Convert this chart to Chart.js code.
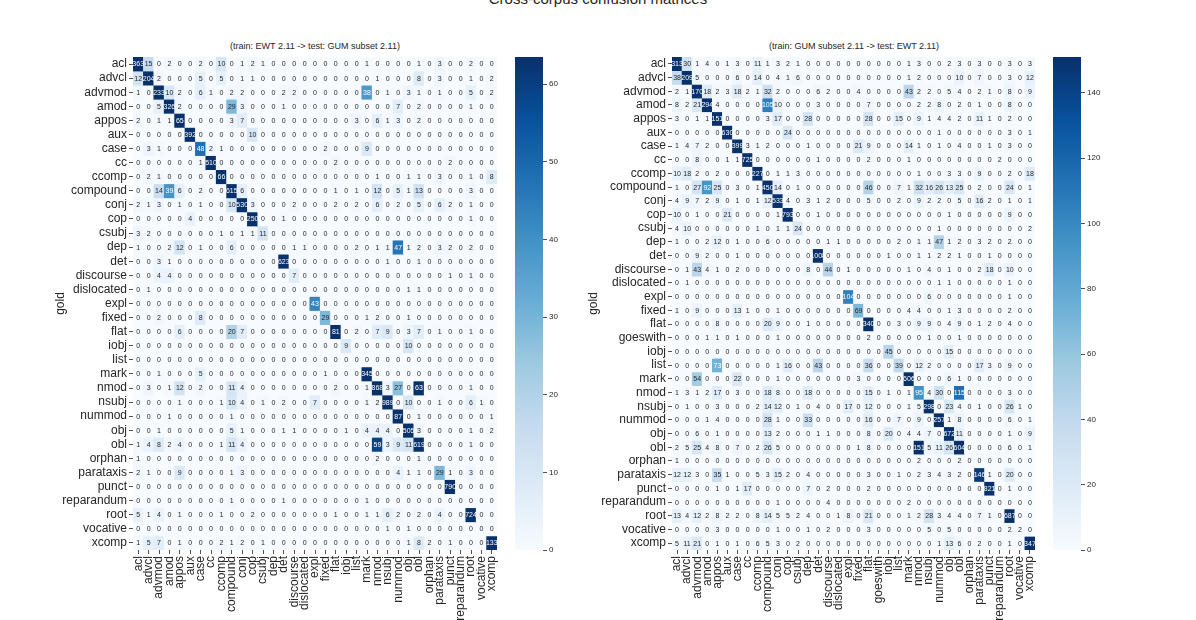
<!DOCTYPE html>
<html>
<head>
<meta charset="utf-8">
<script src="https://cdn.jsdelivr.net/npm/chart.js@4.4.0/dist/chart.umd.min.js"></script>
<style>
  body { margin: 0; background: #fff; width: 1196px; height: 620px; overflow: hidden; position: relative;
         font-family: "Liberation Sans", Arial, sans-serif; color: #262626; }
  canvas { position: absolute; }
  .title { position: absolute; text-align: center; white-space: nowrap; }
  #suptitle { left: 398px; width: 400px; top: -9px; font-size: 15px; line-height: 15px; }
  .sub { width: 300px; top: 41px; font-size: 9px; line-height: 11px; }
</style>
</head>
<body>
<div class="title" id="suptitle">Cross-corpus confusion matrices</div>
<div class="title sub" style="left:165px">(train: EWT 2.11 -&gt; test: GUM subset 2.11)</div>
<div class="title sub" style="left:704px">(train: GUM subset 2.11 -&gt; test: EWT 2.11)</div>
<canvas id="heatLeft" width="475" height="580" style="left:30px;top:40px"></canvas>
<canvas id="cbarLeft" width="60" height="520" style="left:510px;top:40px"></canvas>
<canvas id="heatRight" width="478" height="580" style="left:565px;top:40px"></canvas>
<canvas id="cbarRight" width="60" height="520" style="left:1048px;top:40px"></canvas>
<script>
// labels (gold rows = predicted columns)
let ewtLabels = ["acl", "advcl", "advmod", "amod", "appos", "aux", "case", "cc", "ccomp", "compound",
  "conj", "cop", "csubj", "dep", "det", "discourse", "dislocated", "expl", "fixed", "flat", "iobj",
  "list", "mark", "nmod", "nsubj", "nummod", "obj", "obl", "orphan", "parataxis", "punct",
  "reparandum", "root", "vocative", "xcomp"];
let gumLabels = ["acl", "advcl", "advmod", "amod", "appos", "aux", "case", "cc", "ccomp", "compound",
  "conj", "cop", "csubj", "dep", "det", "discourse", "dislocated", "expl", "fixed", "flat", "goeswith",
  "iobj", "list", "mark", "nmod", "nsubj", "nummod", "obj", "obl", "orphan", "parataxis", "punct",
  "reparandum", "root", "vocative", "xcomp"];

// train EWT -> test GUM subset
let ewtToGum = [
  [363,15,0,2,0,0,2,0,10,0,1,2,1,0,0,0,0,0, 0,0,0,0,1,0,0,0,0,1,0,3,0,0,2,0,0],
  [12,204,2,0,0,0,5,0,5,0,1,1,0,0,0,0,0,0, 0,0,0,0,0,1,0,0,0,8,0,3,0,0,1,0,2],
  [1,0,233,10,2,0,6,1,0,2,2,0,0,0,2,2,0,0, 0,0,0,0,38,0,1,0,3,1,0,1,0,0,5,0,2],
  [0,0,5,326,2,0,0,0,0,29,3,0,0,0,1,0,0,0, 0,0,0,0,0,0,0,7,0,2,0,0,0,0,1,0,0],
  [2,0,1,1,65,0,0,0,0,3,7,0,0,0,0,0,0,0, 0,0,0,3,0,6,1,3,0,2,0,0,0,0,0,0,0],
  [0,0,0,0,0,392,0,0,0,0,0,10,0,0,0,0,0,0, 0,0,0,0,0,0,0,0,0,0,0,0,0,0,0,0,0],
  [0,3,1,0,0,0,48,2,1,0,0,0,0,0,0,0,0,0, 2,0,0,0,9,0,0,0,0,0,0,0,0,0,0,0,0],
  [0,0,0,0,0,0,1,510,0,0,0,0,0,0,0,0,0,0, 0,2,0,0,0,0,0,0,0,0,0,0,2,0,0,0,0],
  [0,2,1,0,0,0,0,0,66,0,0,0,0,0,0,0,0,0, 0,0,0,0,0,1,0,0,1,1,0,3,0,0,1,0,8],
  [0,0,14,39,6,0,2,0,0,615,6,0,0,0,0,0,0,0, 0,1,0,1,0,12,0,5,1,13,0,0,0,0,3,0,0],
  [2,1,3,0,1,0,1,0,0,10,530,3,0,0,0,2,0,0, 0,2,0,2,0,6,0,2,0,5,0,6,2,0,1,0,0],
  [0,0,0,0,0,4,0,0,0,0,0,250,0,0,1,0,0,0, 0,0,0,0,0,0,0,0,0,0,0,0,0,0,1,0,0],
  [3,2,0,0,0,0,0,0,1,0,1,1,11,0,0,0,0,0, 0,0,0,0,0,0,0,0,0,0,0,0,0,0,0,0,0],
  [1,0,0,2,12,0,1,0,0,6,0,0,0,0,0,1,1,0, 0,0,0,2,0,1,1,47,1,2,0,3,2,0,2,0,0],
  [0,0,3,1,0,0,0,0,0,0,0,0,0,0,623,0,0,0, 0,0,0,0,0,0,1,0,0,1,0,0,0,0,0,0,0],
  [0,0,4,4,0,0,0,0,0,0,0,0,0,0,0,7,0,0, 0,0,0,0,0,0,0,0,0,0,0,0,1,0,1,0,0],
  [0,1,0,0,0,0,0,0,0,0,0,0,0,0,0,0,0,0, 0,0,0,0,0,0,0,0,1,1,0,0,0,0,0,0,0],
  [0,0,0,0,0,0,0,0,0,0,0,0,0,0,0,0,0,43, 0,0,0,0,0,0,0,0,0,0,0,0,0,0,0,0,0],
  [0,0,2,0,0,0,8,0,0,0,0,0,0,0,0,0,0,0, 29,0,0,0,1,2,0,0,1,0,0,0,0,0,0,0,0],
  [0,0,0,0,6,0,0,0,0,20,7,0,0,0,0,0,0,0, 0,81,0,2,0,7,9,0,3,7,0,1,0,0,1,0,0],
  [0,0,0,0,0,0,0,0,0,0,0,0,0,0,0,0,0,0, 0,0,9,0,0,0,0,0,10,0,0,0,0,0,0,0,0],
  [0,0,0,0,0,0,0,0,0,0,0,0,0,0,0,0,0,0, 0,0,0,0,0,0,0,0,0,0,0,0,0,0,0,0,0],
  [0,0,1,0,0,0,5,0,0,0,0,0,0,0,0,0,0,0, 1,0,0,0,345,0,0,0,0,0,0,0,0,0,0,0,0],
  [0,3,0,1,12,0,2,0,0,11,4,0,0,0,0,0,0,0, 0,2,0,0,1,868,3,27,0,63,0,0,0,0,1,0,0],
  [0,0,0,0,1,0,0,0,1,10,4,0,1,0,2,0,0,7, 0,0,0,0,1,2,989,0,10,0,0,1,0,0,6,1,0],
  [0,0,0,1,0,0,0,0,0,1,0,0,0,0,0,0,0,0, 0,0,0,0,0,0,0,87,0,1,0,0,0,0,0,0,1],
  [0,0,1,0,0,0,0,0,0,5,1,0,0,0,1,1,0,0, 0,0,1,0,4,4,4,0,505,3,0,0,0,0,1,0,2],
  [1,4,8,2,4,0,0,0,1,11,4,0,0,0,0,0,0,0, 0,0,0,0,0,59,3,9,11,619,0,0,0,0,1,0,0],
  [1,0,0,0,0,0,0,0,0,0,0,0,0,0,0,0,0,0, 0,0,0,0,0,2,0,0,0,1,0,0,0,0,0,0,0],
  [2,1,0,0,9,0,0,0,0,1,3,0,0,0,0,0,0,0, 0,0,0,0,0,0,0,4,1,1,0,29,1,0,3,0,0],
  [0,0,0,0,0,0,0,0,0,0,0,0,0,0,0,0,0,0, 0,0,0,0,0,0,0,0,0,0,0,0,790,0,0,0,0],
  [0,0,0,0,0,0,0,0,0,1,0,0,0,0,1,0,0,0, 0,0,0,0,1,0,0,0,0,0,0,0,0,0,0,0,0],
  [5,1,4,0,1,0,0,0,1,0,0,2,0,0,0,0,0,0, 0,1,0,0,1,1,6,2,0,2,0,4,0,0,724,0,0],
  [0,0,0,0,0,0,0,0,0,0,0,0,0,0,0,0,0,0, 0,0,0,0,0,0,1,0,1,0,0,0,0,0,0,0,0],
  [1,5,7,0,1,0,0,0,2,1,2,0,1,0,0,0,0,0, 0,0,0,0,0,0,0,0,1,8,2,0,1,0,0,0,133]
];

// train GUM subset -> test EWT
let gumToEwt = [
  [313,30,1,4,0,1,3,0,11,1,3,2,1,0,0,0,0,0, 0,0,0,0,0,1,3,0,0,2,3,0,3,0,0,3,0,3],
  [38,209,5,0,0,0,6,0,14,0,4,1,6,0,0,0,0,0, 0,0,0,0,0,1,2,0,0,0,10,0,7,0,0,3,0,12],
  [2,1,170,18,2,3,18,2,1,32,2,0,0,0,6,2,0,0, 4,0,0,0,0,43,2,2,0,5,4,0,2,1,0,8,0,9],
  [8,2,21,294,4,0,0,0,0,105,10,0,0,0,3,0,0,0, 0,7,0,0,0,0,2,2,8,0,2,0,1,0,0,8,0,0],
  [3,0,1,1,151,0,0,0,0,3,17,0,0,28,0,0,0,0, 0,28,0,0,15,0,9,1,4,4,2,0,11,1,0,2,0,0],
  [0,0,0,0,0,630,0,0,0,0,0,24,0,0,0,0,0,0, 0,0,0,0,0,0,0,0,1,0,0,0,0,0,0,3,0,1],
  [1,4,7,2,0,0,399,3,1,2,0,0,0,1,0,0,0,0, 21,9,0,0,0,14,1,0,1,0,4,0,0,1,0,3,0,0],
  [0,0,8,0,0,1,1,725,0,0,0,0,0,0,1,0,0,0, 0,2,0,0,0,1,0,0,0,0,0,0,0,0,2,0,0,0],
  [10,18,2,0,2,0,0,0,227,0,1,1,3,0,0,0,0,0, 0,0,0,0,0,0,1,0,0,3,3,0,9,0,0,2,0,18],
  [1,0,27,92,25,0,3,0,1,450,14,0,1,0,0,0,0,0, 0,46,0,0,7,1,32,16,26,13,25,0,2,0,0,24,0,1],
  [4,9,7,2,9,0,1,0,1,12,533,4,0,3,1,2,0,0, 0,5,0,0,2,0,9,2,2,0,5,0,16,2,0,1,0,1],
  [10,0,1,0,0,21,0,0,0,0,1,793,0,0,1,0,0,0, 0,0,0,0,0,0,0,0,0,1,0,0,0,0,0,9,0,0],
  [4,10,0,0,0,0,0,0,1,0,1,1,24,0,0,0,0,0, 0,0,0,0,0,0,0,0,1,0,0,0,0,0,0,0,0,2],
  [1,0,0,2,12,0,1,0,0,6,0,0,0,0,0,1,1,0, 0,0,0,0,2,0,1,1,47,1,2,0,3,2,0,2,0,0],
  [0,0,9,2,0,0,1,0,0,0,0,0,0,0,1008,0,0,0, 0,0,0,1,0,0,1,1,2,2,1,0,0,1,0,0,0,0],
  [0,1,43,4,1,0,2,0,0,0,0,0,0,8,0,44,0,1, 0,0,0,0,0,1,0,4,0,1,0,0,2,18,0,10,0,0],
  [0,1,0,0,0,0,0,0,0,0,0,0,0,0,0,0,0,0, 0,0,0,0,0,0,0,0,1,1,0,0,0,0,0,1,0,0],
  [0,0,0,0,0,0,0,0,0,0,0,0,0,0,0,0,0,104, 0,0,0,0,0,0,0,6,0,0,0,0,0,0,0,1,0,0],
  [1,0,9,0,0,0,13,1,0,0,1,0,0,0,0,0,0,0, 69,0,0,0,0,4,4,0,0,1,3,0,0,0,0,2,0,0],
  [0,0,0,0,8,0,0,0,0,20,9,0,0,1,0,0,0,0, 0,340,0,0,3,0,9,9,0,4,9,0,1,2,0,4,0,0],
  [0,0,0,1,1,0,1,0,0,0,1,0,0,0,0,0,0,0, 0,2,0,0,0,0,0,1,0,0,1,0,0,0,0,0,0,0],
  [0,0,0,0,0,0,0,0,0,0,0,0,0,0,0,0,0,0, 0,0,0,45,0,0,0,0,0,15,0,0,0,0,0,0,0,0],
  [0,0,0,0,73,0,0,0,0,0,1,16,0,0,43,0,0,0, 0,36,0,0,39,0,12,2,0,0,0,0,17,3,0,9,0,0],
  [0,0,54,0,0,0,22,0,0,0,1,0,0,0,0,0,0,0, 3,0,0,0,0,606,0,0,0,6,1,0,0,0,0,0,0,0],
  [1,3,1,2,17,0,3,0,0,18,8,0,0,18,0,0,0,0, 0,15,0,1,0,1,95,4,30,0,115,0,0,0,0,3,0,0],
  [0,1,0,0,3,0,0,0,2,14,12,0,1,0,4,0,0,17, 0,12,0,0,0,1,5,298,0,23,4,0,1,0,0,26,1,0],
  [0,0,0,1,4,0,0,0,0,28,1,0,0,33,0,0,0,0, 0,16,0,0,7,0,9,0,257,1,8,0,0,0,0,6,0,1],
  [0,0,6,0,1,0,0,0,0,13,2,0,0,0,1,1,0,0, 0,8,0,20,0,4,4,7,0,672,11,0,0,0,0,1,0,9],
  [2,5,25,4,8,0,7,0,2,26,5,0,0,0,0,0,0,0, 1,8,0,0,0,0,151,5,11,26,604,0,0,0,0,6,0,1],
  [1,0,0,0,0,0,0,0,0,0,0,0,0,0,0,0,0,0, 0,0,0,0,0,0,2,0,0,0,2,0,0,0,0,0,0,0],
  [12,12,3,0,35,1,0,0,5,3,15,2,0,4,0,0,0,0, 0,3,0,0,1,0,2,3,4,3,2,0,146,1,0,20,0,0],
  [0,0,0,0,1,0,1,17,0,0,0,0,0,7,0,2,0,0, 0,2,0,0,0,0,0,0,0,0,0,0,0,821,0,1,0,0],
  [0,0,0,0,0,0,0,0,0,0,1,0,0,0,0,4,0,0, 0,0,0,0,0,2,0,0,0,0,0,0,0,0,0,0,0,0],
  [13,4,12,2,8,2,2,0,8,14,5,5,2,4,0,0,1,8, 0,21,0,0,0,1,2,28,3,4,4,0,7,1,0,687,0,0],
  [0,0,0,0,3,0,0,0,0,0,1,0,0,1,0,2,0,0, 0,3,0,0,0,0,0,5,0,5,0,0,0,0,0,2,2,0],
  [5,11,21,0,1,0,1,0,6,5,3,0,2,0,0,0,0,0, 0,0,0,0,0,0,0,0,1,13,6,0,2,0,0,1,0,347]
];

// colour bar ranges and ticks
let ewtMax = 63.5;
let gumMax = 151;
let ewtBarTicks = [0, 10, 20, 30, 40, 50, 60];
let gumBarTicks = [0, 20, 40, 60, 80, 100, 120, 140];

const FONT = '"Liberation Sans", Arial, sans-serif';
const INK = "#262626";
Chart.defaults.font.family = FONT;
Chart.defaults.color = INK;

// matplotlib "Blues"
const blues = [[247,251,255],[222,235,247],[198,219,239],[158,202,225],[107,174,214],
  [66,146,198],[33,113,181],[8,81,156],[8,48,107]];

function bluesAt(t) {
  t = Math.max(0, Math.min(1, t));
  let p = t * 8;
  let i = Math.min(7, Math.floor(p));
  let f = p - i;
  return blues[i].map((c, k) => Math.round(c + (blues[i + 1][k] - c) * f));
}

function rgb(c) {
  return "rgb(" + c[0] + "," + c[1] + "," + c[2] + ")";
}

function luminance(c) {
  let l = c.map(v => {
    v = v / 255;
    return v <= 0.03928 ? v / 12.92 : Math.pow((v + 0.055) / 1.055, 2.4);
  });
  return 0.2126 * l[0] + 0.7152 * l[1] + 0.0722 * l[2];
}

// write the counts into every cell
const annotate = {
  id: "annotate",
  afterDatasetsDraw(chart) {
    let ctx = chart.ctx;
    ctx.save();
    ctx.font = "7px " + FONT;
    ctx.textAlign = "center";
    ctx.textBaseline = "middle";
    chart.data.datasets.forEach((ds, i) => {
      chart.getDatasetMeta(i).data.forEach((bar, j) => {
        ctx.fillStyle = ds.textColors[j];
        ctx.fillText(String(ds.counts[j]), bar.x, (bar.y + bar.base) / 2 + 0.5);
      });
    });
    ctx.restore();
  }
};

function heatmap(id, labels, matrix, vmax, yWidth, titlePad) {
  let canvas = document.getElementById(id);
  let H = canvas.height;
  let datasets = labels.map((name, i) => {
    let cols = matrix[i].map(v => bluesAt(v / vmax));
    return {
      label: name,
      data: labels.map(() => 1),
      counts: matrix[i],
      backgroundColor: cols.map(rgb),
      textColors: cols.map(c => luminance(c) > 0.408 ? INK : "#ffffff"),
      borderWidth: 0,
      barPercentage: 1,
      categoryPercentage: 1
    };
  });

  let tickGrid = { display: true, drawOnChartArea: false, offset: false, tickLength: 4,
    color: INK, lineWidth: 0.8 };

  return new Chart(canvas, {
    type: "bar",
    data: { labels: labels, datasets: datasets },
    options: {
      responsive: false,
      animation: false,
      layout: { padding: { top: 17, right: 8, left: 0, bottom: 0 } },
      plugins: { legend: { display: false }, tooltip: { enabled: false } },
      scales: {
        x: {
          stacked: true,
          grid: tickGrid,
          border: { display: false },
          ticks: { autoSkip: false, maxRotation: 90, minRotation: 90, padding: 2,
            font: { size: 12 }, color: INK },
          afterFit: s => { s.height = H - 510; s.paddingLeft = 0; s.paddingRight = 0; }
        },
        y: {
          stacked: true,
          reverse: true,
          min: 0,
          max: labels.length,
          grid: tickGrid,
          border: { display: false },
          afterBuildTicks: s => { s.ticks = labels.map((n, i) => ({ value: i + 0.5 })); },
          ticks: { autoSkip: false, padding: 2, font: { size: 12 }, color: INK,
            callback: (v, i) => labels[i] },
          title: { display: true, text: "gold", font: { size: 12 }, color: INK,
            padding: { top: titlePad, bottom: 0 } },
          afterFit: s => { s.width = yWidth; s.paddingTop = 0; s.paddingBottom = 0; }
        }
      }
    },
    plugins: [annotate]
  });
}

function colorbar(id, vmax, tickVals) {
  let canvas = document.getElementById(id);
  let W = canvas.width;
  return new Chart(canvas, {
    type: "bar",
    data: {
      labels: [""],
      datasets: [{
        data: [vmax],
        borderWidth: 0,
        barPercentage: 1,
        categoryPercentage: 1,
        backgroundColor: c => {
          let area = c.chart.chartArea;
          if (!area) return "#ffffff";
          let g = c.chart.ctx.createLinearGradient(0, area.bottom, 0, area.top);
          blues.forEach((b, k) => g.addColorStop(k / 8, rgb(b)));
          return g;
        }
      }]
    },
    options: {
      responsive: false,
      animation: false,
      layout: { padding: { left: 5, top: 17, bottom: 10, right: 0 } },
      plugins: { legend: { display: false }, tooltip: { enabled: false } },
      scales: {
        x: { display: false },
        y: {
          position: "right",
          min: 0,
          max: vmax,
          afterBuildTicks: s => { s.ticks = tickVals.map(v => ({ value: v })); },
          grid: { drawOnChartArea: false, tickLength: 4, color: INK, lineWidth: 0.8 },
          border: { display: false },
          ticks: { padding: 2, font: { size: 8 }, color: INK },
          afterFit: s => { s.width = W - 33; }
        }
      }
    }
  });
}

heatmap("heatLeft", ewtLabels, ewtToGum, ewtMax, 103, 23);
colorbar("cbarLeft", ewtMax, ewtBarTicks);
heatmap("heatRight", gumLabels, gumToEwt, gumMax, 107, 21);
colorbar("cbarRight", gumMax, gumBarTicks);
</script>
</body>
</html>
